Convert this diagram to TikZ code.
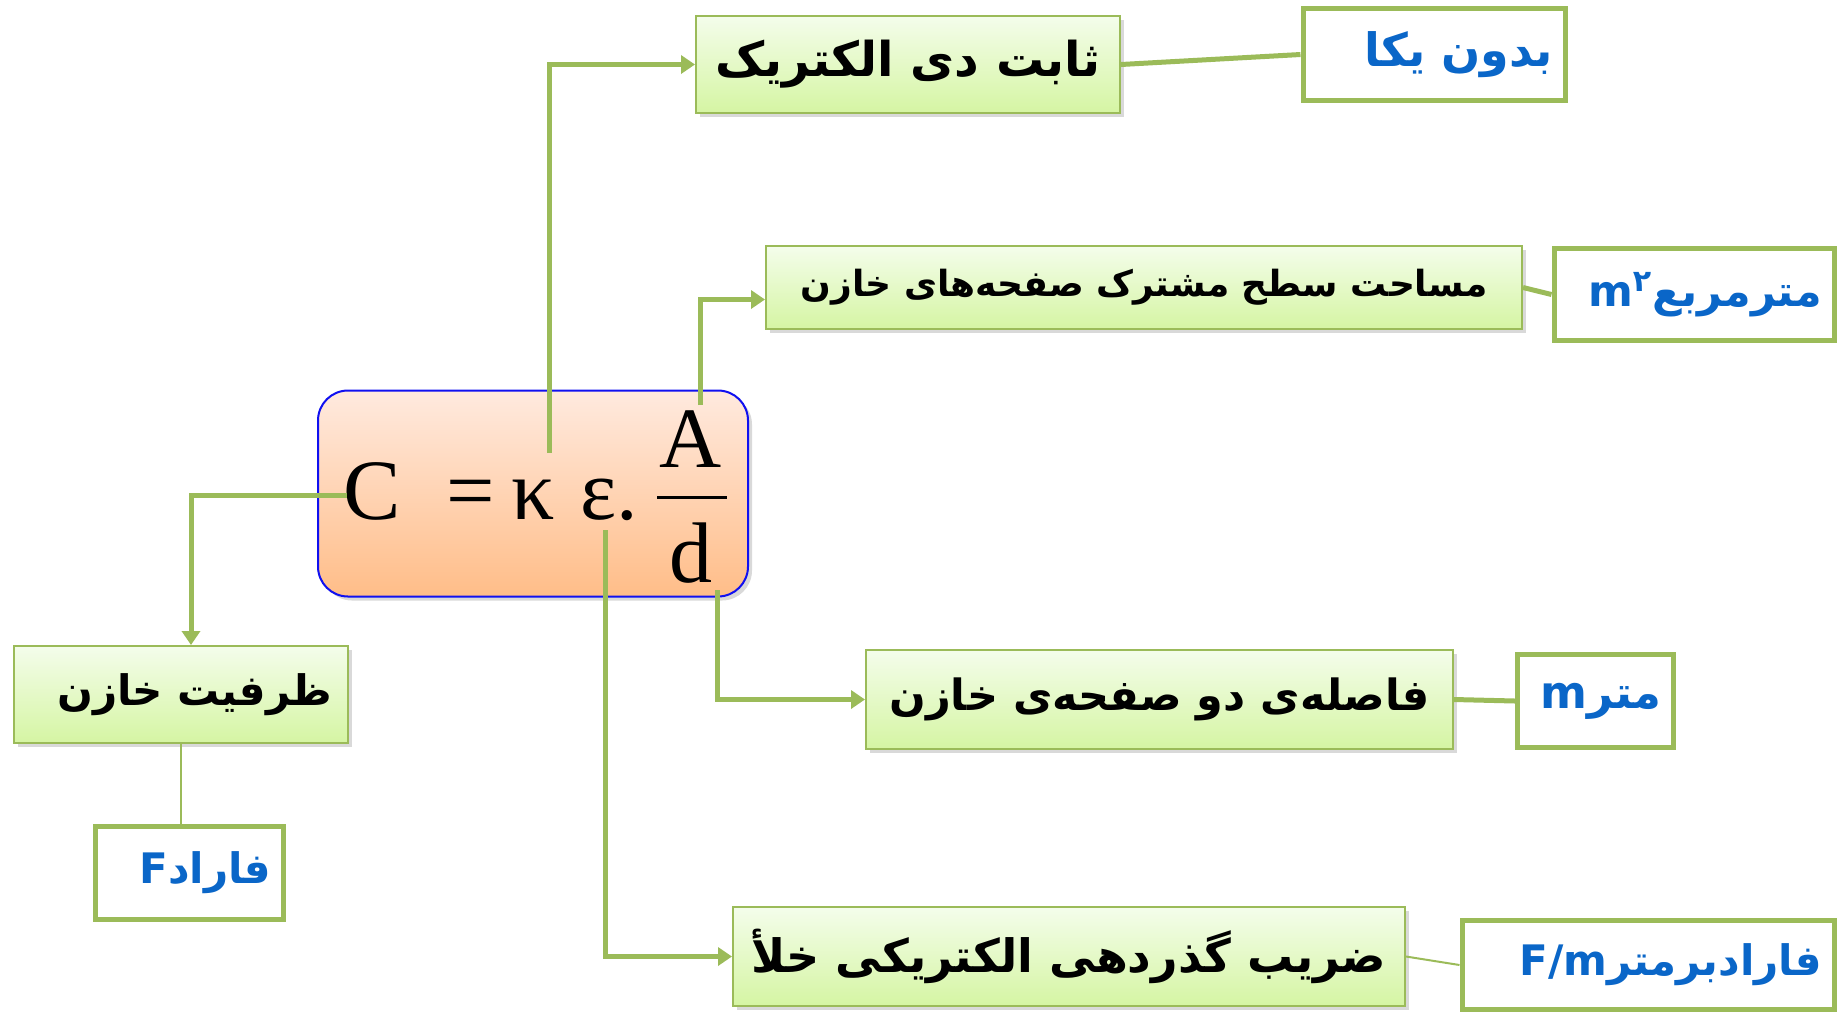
\documentclass[tikz,border=0pt]{standalone}
\usepackage{fontspec}
\setmainfont{Liberation Serif}
\newfontfamily\arabicfont[Script=Arabic]{DejaVu Sans}
\TeXXeTstate=1
\usetikzlibrary{arrows.meta,positioning,calc,shadows}
\definecolor{linkgreen}{HTML}{9BBB59}
\definecolor{boxtop}{HTML}{F4FDEB}
\definecolor{boxbottom}{HTML}{D5F5A3}
\definecolor{eqtop}{HTML}{FFEADF}
\definecolor{eqbottom}{HTML}{FFBD88}
\definecolor{eqborder}{HTML}{1010F0}
\definecolor{unitblue}{HTML}{0A66C8}
\newcommand{\rtl}[1]{\beginR#1\endR}
\newcommand{\ltr}[1]{\beginL#1\endL{}}
\newcommand{\arsize}[1]{\arabicfont\bfseries\fontsize{#1}{#1}\selectfont}

\begin{document}
\begin{tikzpicture}[x=0.5pt,y=-0.5pt,font=\fontsize{43}{48}\selectfont,
  concept/.style={draw=linkgreen,line width=1pt,top color=boxtop,bottom color=boxbottom,
    drop shadow={opacity=0.3,shadow xshift=2pt,shadow yshift=-2pt},
    inner sep=0pt,font=\arsize{23}},
  unitbox/.style={draw=linkgreen,line width=2.5pt,fill=white,text=unitblue,
    inner xsep=6pt,inner ysep=0pt,align=right,font=\arsize{23}},
  link/.style={draw=linkgreen,line width=2.5pt},
  arrowlink/.style={link,-{Triangle[width=9pt,length=7pt]}},
  thinlink/.style={draw=linkgreen,line width=1pt}]
  \useasboundingbox (0,0) rectangle (1843,1014);

  % formula
  \node[draw=eqborder,line width=1pt,rounded corners=15pt,top color=eqtop,bottom color=eqbottom,
    drop shadow={opacity=0.3,shadow xshift=2pt,shadow yshift=-2pt},
    minimum width=215pt,minimum height=103pt] (eq) at (533,493.5) {};
  \node[anchor=base] (cc) at (372,519) {C};
  \node[anchor=base] (eqsign) at (471,519) {=};
  \node[anchor=base] (kappa) at (533,519) {κ};
  \node[anchor=base] (eps) at (609,519) {ε.};
  \node[anchor=base] (numer) at (691,467) {A};
  \node[anchor=base] (denom) at (691,582) {d};
  \draw[line width=1.5pt] (657,497) -- (727,497);

  \coordinate (cLeft) at (347,495);
  \coordinate (kapTop) at (549,453);
  \coordinate (aTop) at (700,405);
  \coordinate (epsBot) at (605,530);
  \coordinate (dBot) at (717,590);

  % concepts
  \node[concept,minimum width=212pt,minimum height=48.5pt,font=\arsize{24}] (dielec) at (908,64.5) {\rtl{ثابت دی الکتریک}};
  \node[concept,minimum width=378pt,minimum height=41.5pt,font=\arsize{18}] (area) at (1144,287.5) {\rtl{مساحت سطح مشترک صفحه‌های خازن}};
  \node[concept,minimum width=293.5pt,minimum height=49.5pt,font=\arsize{21.5}] (dist) at (1159.5,699.5) {\rtl{فاصله‌ی دو صفحه‌ی خازن}};
  \node[concept,minimum width=336pt,minimum height=49.5pt,font=\arsize{23}] (perm) at (1069,956.5) {\rtl{ضریب گذردهی الکتریکی خلأ}};
  \node[concept,minimum width=167pt,minimum height=48.5pt,inner xsep=8pt,text width=151pt,align=right,font=\arsize{21}] (cap) at (181,694.5) {\rtl{ظرفیت خازن}};

  % units
  \node[unitbox,text width=119pt,minimum height=46pt] (nounit) at (1434,54.5) {\rtl{بدون یکا}};
  \node[unitbox,text width=128pt,minimum height=46pt,font=\arsize{21.5}] (msq) at (1694,294.5) {\rtl{مترمربع\ltr{m\textsuperscript{۲}}}};
  \node[unitbox,text width=66pt,minimum height=46.5pt,font=\arsize{22.5}] (meter) at (1595.5,701) {\rtl{متر\ltr{m}}};
  \node[unitbox,text width=174pt,minimum height=44.5pt,font=\arsize{21}] (fpm) at (1648,965) {\rtl{فارادبرمتر\ltr{F/m}}};
  \node[unitbox,text width=82pt,minimum height=46.5pt,font=\arsize{21}] (farad) at (189.5,873) {\rtl{فاراد\ltr{F}}};

  % links
  \draw[arrowlink] (kapTop) |- (dielec.west);
  \draw[arrowlink] (aTop) |- ([yshift=-6pt]area.west);
  \draw[arrowlink] (dBot) |- (dist.west);
  \draw[arrowlink] (epsBot) |- (perm.west);
  \draw[arrowlink] (cLeft) -| ([xshift=5pt]cap.north);
  \draw[link] (dielec.east) -- (nounit.west);
  \draw[link] (area.east) -- (msq.west);
  \draw[link] (dist.east) -- (meter.west);
  \draw[thinlink] (perm.east) -- (fpm.west);
  \draw[thinlink] (cap.south) -- (cap.south |- farad.north);
\end{tikzpicture}
\end{document}
